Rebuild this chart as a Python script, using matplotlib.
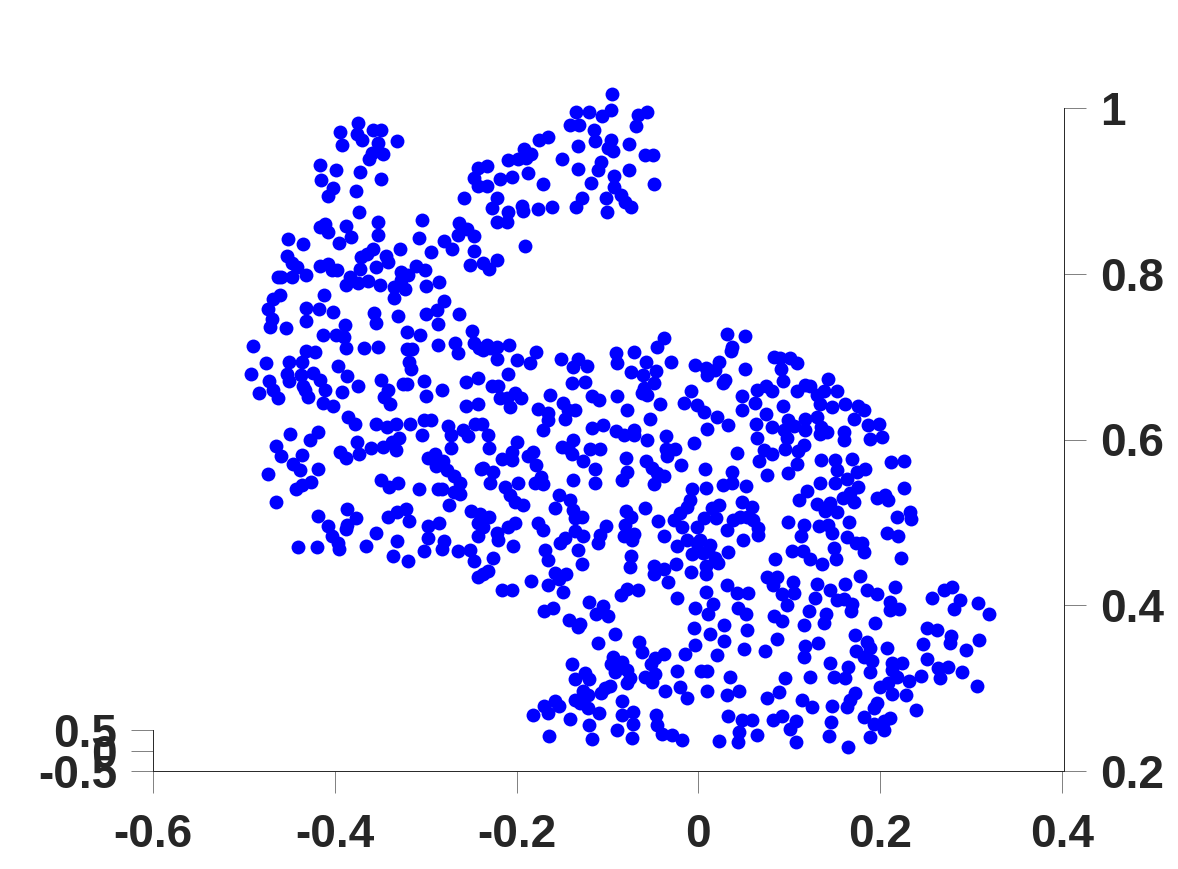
import matplotlib
matplotlib.use("Agg")
import matplotlib.pyplot as plt

# points, grouped by part of the shape
ears_x = [-0.374, -0.394, -0.376, -0.370, -0.358, -0.349, -0.332, -0.392, -0.353, -0.347, -0.359, -0.362,
          -0.416, -0.399, -0.372, -0.349, -0.415, -0.402, -0.408, -0.377, -0.373, -0.352, -0.353, -0.304,
          -0.307, -0.258, -0.411, -0.416, -0.408, -0.388, -0.382, -0.395, -0.451, -0.435, -0.453, -0.447,
          -0.442, -0.463, -0.459, -0.447, -0.432, -0.416, -0.407, -0.403, -0.398, -0.358, -0.365, -0.371,
          -0.344, -0.342, -0.328, -0.355, -0.372, -0.383, -0.388, -0.375, -0.364, -0.350, -0.335, -0.335,
          -0.327, -0.327, -0.319, -0.323, -0.311, -0.301, -0.300, -0.285, -0.294, -0.280, -0.271, -0.265,
          -0.263, -0.255, -0.247, -0.251, -0.247, -0.412, -0.460, -0.468, -0.474, -0.432, -0.417, -0.402,
          -0.280, -0.288, -0.300, -0.357, -0.330, -0.263, -0.243, -0.247, -0.243]
ears_y = [0.982, 0.971, 0.969, 0.961, 0.973, 0.973, 0.960, 0.955, 0.958, 0.945, 0.946, 0.938,
          0.931, 0.925, 0.923, 0.914, 0.913, 0.904, 0.894, 0.900, 0.875, 0.863, 0.847, 0.865,
          0.843, 0.891, 0.860, 0.856, 0.850, 0.858, 0.844, 0.837, 0.842, 0.836, 0.822, 0.813,
          0.808, 0.796, 0.796, 0.796, 0.798, 0.809, 0.812, 0.805, 0.805, 0.830, 0.824, 0.820,
          0.822, 0.814, 0.830, 0.808, 0.806, 0.796, 0.787, 0.789, 0.791, 0.786, 0.771, 0.784,
          0.802, 0.792, 0.798, 0.781, 0.809, 0.804, 0.785, 0.790, 0.826, 0.839, 0.830, 0.847,
          0.861, 0.854, 0.845, 0.810, 0.828, 0.774, 0.774, 0.769, 0.757, 0.759, 0.758, 0.754,
          0.767, 0.756, 0.751, 0.753, 0.749, 0.751, 0.928, 0.915, 0.906]

right_ear_x = [-0.095, -0.135, -0.120, -0.096, -0.106, -0.066, -0.057, -0.069, -0.141, -0.131, -0.115, -0.114,
               -0.096, -0.099, -0.094, -0.133, -0.076, -0.059, -0.050, -0.165, -0.175, -0.192, -0.184, -0.190,
               -0.198, -0.209, -0.150, -0.132, -0.107, -0.111, -0.076, -0.093, -0.118, -0.093, -0.049, -0.188,
               -0.205, -0.218, -0.171, -0.233, -0.233, -0.222, -0.227, -0.194, -0.193, -0.176, -0.161, -0.209,
               -0.222, -0.211, -0.135, -0.128, -0.102, -0.101, -0.085, -0.081, -0.074, -0.191, -0.237, -0.230,
               -0.222]
right_ear_y = [1.017, 0.995, 0.995, 0.997, 0.990, 0.992, 0.995, 0.978, 0.979, 0.979, 0.974, 0.960,
               0.961, 0.952, 0.948, 0.954, 0.956, 0.943, 0.943, 0.965, 0.961, 0.950, 0.945, 0.940,
               0.938, 0.937, 0.939, 0.926, 0.935, 0.925, 0.925, 0.918, 0.910, 0.905, 0.908, 0.921,
               0.917, 0.914, 0.908, 0.930, 0.906, 0.892, 0.879, 0.882, 0.876, 0.878, 0.880, 0.875,
               0.863, 0.862, 0.880, 0.892, 0.892, 0.875, 0.895, 0.886, 0.881, 0.834, 0.813, 0.806,
               0.816]

head_x = [-0.469, -0.471, -0.454, -0.432, -0.389, -0.413, -0.399, -0.390, -0.388, -0.368, -0.353, -0.355,
          -0.321, -0.306, -0.287, -0.490, -0.476, -0.492, -0.472, -0.450, -0.436, -0.432, -0.422, -0.453,
          -0.450, -0.437, -0.424, -0.416, -0.397, -0.387, -0.375, -0.435, -0.411, -0.433, -0.430, -0.483,
          -0.468, -0.462, -0.413, -0.402, -0.392, -0.349, -0.342, -0.346, -0.339, -0.325, -0.321, -0.302,
          -0.300, -0.282, -0.286, -0.321, -0.315, -0.318, -0.316, -0.268, -0.265, -0.256, -0.243, -0.256,
          -0.243, -0.249, -0.247, -0.241, -0.385, -0.378, -0.355, -0.333, -0.343, -0.317, -0.302, -0.294,
          -0.276, -0.272, -0.259, -0.246, -0.253, -0.304, -0.272, -0.329, -0.337, -0.347, -0.360, -0.376,
          -0.373, -0.394, -0.388, -0.333, -0.449, -0.418, -0.427, -0.465, -0.459, -0.436, -0.446, -0.438,
          -0.419, -0.473, -0.426, -0.436, -0.443, -0.465, -0.349, -0.340, -0.331, -0.307, -0.286, -0.282,
          -0.269, -0.262, -0.274, -0.262, -0.269, -0.277, -0.281, -0.290, -0.297, -0.289, -0.239, -0.418,
          -0.387, -0.377, -0.407, -0.387, -0.388, -0.403, -0.396, -0.395, -0.440, -0.420, -0.366, -0.355,
          -0.332, -0.336, -0.319, -0.342, -0.332, -0.322, -0.318, -0.297, -0.285, -0.297, -0.280, -0.282,
          -0.302, -0.265, -0.250, -0.243, -0.243, -0.251, -0.247]
head_y = [0.745, 0.736, 0.735, 0.743, 0.738, 0.726, 0.726, 0.724, 0.710, 0.710, 0.712, 0.741,
          0.730, 0.726, 0.739, 0.713, 0.692, 0.679, 0.671, 0.693, 0.694, 0.707, 0.706, 0.679,
          0.670, 0.678, 0.680, 0.672, 0.689, 0.677, 0.665, 0.664, 0.660, 0.660, 0.651, 0.656,
          0.660, 0.650, 0.644, 0.641, 0.657, 0.672, 0.660, 0.651, 0.643, 0.667, 0.667, 0.670,
          0.653, 0.660, 0.714, 0.709, 0.709, 0.694, 0.685, 0.717, 0.704, 0.669, 0.674, 0.640,
          0.643, 0.731, 0.716, 0.710, 0.627, 0.619, 0.619, 0.619, 0.615, 0.619, 0.623, 0.623,
          0.616, 0.605, 0.612, 0.619, 0.604, 0.605, 0.590, 0.602, 0.597, 0.591, 0.590, 0.597,
          0.582, 0.585, 0.578, 0.587, 0.607, 0.609, 0.600, 0.592, 0.580, 0.581, 0.570, 0.563,
          0.564, 0.558, 0.549, 0.545, 0.540, 0.524, 0.551, 0.543, 0.547, 0.540, 0.540, 0.540,
          0.537, 0.534, 0.521, 0.548, 0.556, 0.563, 0.574, 0.582, 0.578, 0.568, 0.565, 0.508,
          0.516, 0.505, 0.496, 0.497, 0.492, 0.483, 0.475, 0.468, 0.470, 0.470, 0.471, 0.487,
          0.477, 0.460, 0.453, 0.507, 0.512, 0.516, 0.502, 0.496, 0.499, 0.481, 0.478, 0.468,
          0.465, 0.465, 0.514, 0.499, 0.483, 0.467, 0.453]

middle_x = [-0.233, -0.222, -0.208, -0.237, -0.229, -0.222, -0.200, -0.179, -0.185, -0.209, -0.227, -0.220,
            -0.218, -0.211, -0.202, -0.195, -0.207, -0.151, -0.132, -0.138, -0.123, -0.139, -0.125, -0.163,
            -0.117, -0.109, -0.149, -0.136, -0.143, -0.147, -0.177, -0.166, -0.165, -0.171, -0.091, -0.090,
            -0.071, -0.058, -0.074, -0.061, -0.047, -0.049, -0.030, -0.004, -0.038, -0.045, -0.089, -0.078,
            -0.060, -0.057, -0.062, -0.042, -0.053, -0.008, -0.016, -0.002, -0.117, -0.105, -0.091, -0.082,
            -0.071, -0.071, -0.056, -0.036, -0.005, -0.036, -0.026, -0.034, -0.019, -0.238, -0.232, -0.230,
            -0.200, -0.205, -0.216, -0.205, -0.182, -0.187, -0.179, -0.237, -0.226, -0.229, -0.213, -0.198,
            -0.207, -0.202, -0.193, -0.173, -0.180, -0.171, -0.138, -0.138, -0.150, -0.144, -0.139, -0.127,
            -0.119, -0.108, -0.114, -0.114, -0.080, -0.079, -0.084, -0.058, -0.051, -0.046, -0.038, -0.049,
            -0.153, -0.141, -0.158, -0.138, -0.128, -0.136, -0.080, -0.059, -0.074, -0.044, -0.027, -0.020,
            -0.013, -0.009, -0.007, -0.018, -0.002, -0.038, -0.023, -0.013, -0.002, -0.007, -0.240, -0.230,
            -0.237, -0.222, -0.221, -0.209, -0.202, -0.204, -0.226, -0.232, -0.176, -0.171, -0.169, -0.165,
            -0.147, -0.136, -0.127, -0.152, -0.133, -0.108, -0.102, -0.110, -0.081, -0.082, -0.071, -0.073,
            -0.074, -0.237, -0.242, -0.216, -0.205]
middle_y = [0.714, 0.712, 0.714, 0.708, 0.710, 0.697, 0.696, 0.705, 0.692, 0.679, 0.664, 0.664,
            0.650, 0.650, 0.656, 0.650, 0.639, 0.697, 0.697, 0.687, 0.689, 0.668, 0.669, 0.654,
            0.652, 0.648, 0.644, 0.636, 0.636, 0.625, 0.637, 0.632, 0.624, 0.612, 0.704, 0.692,
            0.705, 0.693, 0.681, 0.678, 0.683, 0.668, 0.693, 0.690, 0.723, 0.712, 0.652, 0.636,
            0.662, 0.654, 0.656, 0.643, 0.625, 0.658, 0.644, 0.642, 0.614, 0.617, 0.610, 0.605,
            0.611, 0.605, 0.599, 0.604, 0.596, 0.589, 0.589, 0.580, 0.569, 0.619, 0.605, 0.590,
            0.597, 0.585, 0.576, 0.575, 0.585, 0.580, 0.569, 0.566, 0.561, 0.548, 0.543, 0.547,
            0.533, 0.525, 0.521, 0.555, 0.547, 0.546, 0.551, 0.599, 0.591, 0.590, 0.582, 0.574,
            0.588, 0.588, 0.564, 0.548, 0.578, 0.561, 0.551, 0.574, 0.566, 0.559, 0.556, 0.546,
            0.533, 0.527, 0.517, 0.515, 0.506, 0.505, 0.514, 0.517, 0.506, 0.502, 0.503, 0.511,
            0.519, 0.527, 0.540, 0.495, 0.495, 0.484, 0.472, 0.479, 0.475, 0.462, 0.510, 0.506,
            0.495, 0.487, 0.479, 0.494, 0.499, 0.472, 0.457, 0.441, 0.499, 0.491, 0.467, 0.455,
            0.481, 0.489, 0.483, 0.475, 0.467, 0.485, 0.496, 0.475, 0.497, 0.483, 0.486, 0.479,
            0.459, 0.438, 0.434, 0.418, 0.419]

back_x = [0.031, 0.051, 0.037, 0.036, 0.008, 0.023, 0.010, 0.018, 0.027, 0.029, 0.051, 0.083,
          0.090, 0.101, 0.108, 0.091, 0.093, 0.143, 0.152, 0.117, 0.123, 0.108, 0.138, 0.074,
          0.081, 0.064, 0.048, 0.062, 0.048, 0.093, 0.130, 0.134, 0.147, 0.161, 0.176, 0.182,
          0.171, 0.199, 0.187, 0.074, 0.063, 0.081, 0.099, 0.094, 0.105, 0.117, 0.130, 0.117,
          0.135, 0.141, 0.134, 0.160, 0.160, 0.189, 0.202, 0.065, 0.097, 0.095, 0.116, 0.110,
          0.072, 0.081, 0.067, 0.076, 0.108, 0.099, 0.135, 0.150, 0.169, 0.152, 0.183, 0.174,
          0.163, 0.150, 0.134, 0.176, 0.167, 0.159, 0.171, 0.120, 0.111, 0.130, 0.145, 0.139,
          0.153, 0.196, 0.205, 0.209, 0.226, 0.212, 0.226, 0.233, 0.234, 0.219, 0.207, 0.220,
          0.166, 0.099, 0.116, 0.113, 0.133, 0.143, 0.147, 0.163, 0.173, 0.180, 0.182, 0.149,
          0.223, 0.103, 0.115, 0.084, 0.123, 0.151, 0.042, 0.007, 0.037, 0.027, 0.037, 0.052,
          0.008, 0.010, 0.033, 0.021, 0.006, 0.023, 0.015, 0.019, 0.006, 0.048, 0.059, 0.038,
          0.046, 0.053, 0.032, 0.060, 0.066, 0.066, 0.049, 0.033, 0.002, 0.013, 0.005, 0.011,
          0.018]
back_y = [0.727, 0.725, 0.712, 0.707, 0.686, 0.693, 0.678, 0.684, 0.668, 0.672, 0.685, 0.699,
          0.698, 0.698, 0.692, 0.685, 0.670, 0.673, 0.658, 0.666, 0.664, 0.658, 0.659, 0.664,
          0.659, 0.660, 0.652, 0.644, 0.635, 0.641, 0.654, 0.643, 0.639, 0.643, 0.641, 0.635,
          0.625, 0.619, 0.617, 0.631, 0.619, 0.615, 0.623, 0.611, 0.616, 0.625, 0.627, 0.611,
          0.615, 0.609, 0.607, 0.609, 0.600, 0.601, 0.603, 0.602, 0.602, 0.589, 0.593, 0.586,
          0.587, 0.582, 0.574, 0.557, 0.570, 0.559, 0.575, 0.575, 0.577, 0.563, 0.564, 0.561,
          0.552, 0.548, 0.547, 0.543, 0.535, 0.530, 0.525, 0.538, 0.527, 0.522, 0.523, 0.514,
          0.512, 0.530, 0.533, 0.527, 0.542, 0.573, 0.574, 0.512, 0.504, 0.506, 0.487, 0.484,
          0.500, 0.501, 0.497, 0.483, 0.496, 0.497, 0.487, 0.482, 0.475, 0.475, 0.464, 0.469,
          0.457, 0.465, 0.465, 0.456, 0.456, 0.456, 0.584, 0.565, 0.561, 0.545, 0.547, 0.544,
          0.541, 0.613, 0.617, 0.627, 0.633, 0.521, 0.517, 0.505, 0.505, 0.524, 0.519, 0.503,
          0.507, 0.507, 0.491, 0.503, 0.493, 0.485, 0.479, 0.464, 0.479, 0.473, 0.463, 0.465,
          0.457]

belly_x = [-0.128, -0.075, -0.049, -0.049, -0.038, -0.025, -0.033, -0.008, 0.008, 0.008, 0.022, -0.184,
           -0.158, -0.146, -0.153, -0.166, -0.149, 0.032, 0.042, 0.055, 0.008, -0.024, -0.079, -0.066,
           -0.085, -0.004, 0.016, 0.011, 0.044, 0.052, -0.120, -0.105, -0.113, -0.100, -0.170, -0.160,
           -0.142, -0.130, -0.133, -0.005, 0.028, 0.053, 0.013, 0.028, -0.092, -0.111, -0.065, -0.062,
           -0.004, 0.050, -0.038, -0.048, -0.015, 0.021, -0.052, -0.139, -0.094, -0.096, -0.084, -0.092,
           -0.079, -0.075, -0.059, -0.048, -0.051, -0.078, -0.023, 0.003, 0.009, 0.035, -0.125, -0.136,
           -0.120, -0.097, -0.103, -0.107, -0.127, -0.121, -0.136, -0.130, -0.121, -0.109, -0.037, -0.020,
           -0.013, 0.009, 0.031, 0.045, -0.084, -0.158, -0.170, -0.153, -0.166, -0.182, -0.141, -0.120,
           -0.164, -0.117, -0.089, -0.072, -0.084, -0.072, -0.073, -0.047, -0.046, -0.040, -0.029, -0.018,
           0.033, 0.048, 0.059, 0.045, 0.044, 0.023, 0.064]
belly_y = [0.450, 0.446, 0.447, 0.438, 0.444, 0.450, 0.428, 0.440, 0.447, 0.438, 0.451, 0.429,
           0.439, 0.438, 0.432, 0.424, 0.416, 0.424, 0.415, 0.415, 0.416, 0.409, 0.420, 0.419,
           0.412, 0.397, 0.402, 0.390, 0.397, 0.389, 0.404, 0.399, 0.389, 0.387, 0.393, 0.397,
           0.382, 0.377, 0.374, 0.372, 0.376, 0.370, 0.365, 0.357, 0.365, 0.354, 0.356, 0.343,
           0.352, 0.347, 0.341, 0.336, 0.341, 0.340, 0.329, 0.329, 0.338, 0.329, 0.331, 0.319,
           0.322, 0.312, 0.313, 0.317, 0.307, 0.306, 0.321, 0.321, 0.321, 0.313, 0.318, 0.311,
           0.311, 0.302, 0.300, 0.294, 0.296, 0.292, 0.286, 0.282, 0.276, 0.270, 0.296, 0.301,
           0.288, 0.297, 0.292, 0.296, 0.285, 0.284, 0.278, 0.278, 0.270, 0.267, 0.263, 0.256,
           0.242, 0.239, 0.249, 0.271, 0.267, 0.257, 0.240, 0.268, 0.255, 0.245, 0.243, 0.238,
           0.266, 0.262, 0.262, 0.247, 0.235, 0.236, 0.243]

tail_x = [0.136, 0.075, 0.087, 0.104, 0.082, 0.092, 0.105, 0.097, 0.083, 0.092, 0.130, 0.128,
          0.122, 0.145, 0.161, 0.178, 0.186, 0.196, 0.216, 0.153, 0.160, 0.169, 0.168, 0.211,
          0.211, 0.221, 0.140, 0.138, 0.116, 0.194, 0.257, 0.270, 0.279, 0.288, 0.281, 0.308,
          0.320, 0.252, 0.262, 0.278, 0.277, 0.247, 0.309, 0.294, 0.251, 0.172, 0.185, 0.189,
          0.173, 0.182, 0.191, 0.189, 0.208, 0.087, 0.073, 0.117, 0.132, 0.116, 0.145, 0.165,
          0.149, 0.161, 0.213, 0.224, 0.213, 0.218, 0.232, 0.245, 0.264, 0.275, 0.266, 0.290,
          0.307, 0.095, 0.123, 0.209, 0.200, 0.213, 0.228, 0.239, 0.089, 0.076, 0.114, 0.125,
          0.147, 0.172, 0.167, 0.164, 0.196, 0.193, 0.182, 0.211, 0.204, 0.193, 0.146, 0.144,
          0.189, 0.204, 0.165, 0.082, 0.092, 0.107, 0.101, 0.107]
tail_y = [0.450, 0.434, 0.434, 0.428, 0.424, 0.414, 0.415, 0.400, 0.387, 0.381, 0.426, 0.409,
          0.393, 0.418, 0.426, 0.435, 0.419, 0.413, 0.422, 0.406, 0.407, 0.402, 0.393, 0.404,
          0.394, 0.396, 0.390, 0.378, 0.376, 0.379, 0.409, 0.418, 0.422, 0.406, 0.396, 0.403,
          0.390, 0.373, 0.370, 0.363, 0.354, 0.353, 0.358, 0.346, 0.335, 0.364, 0.356, 0.349,
          0.345, 0.338, 0.333, 0.320, 0.349, 0.359, 0.345, 0.351, 0.355, 0.338, 0.330, 0.325,
          0.314, 0.312, 0.330, 0.330, 0.322, 0.314, 0.309, 0.315, 0.324, 0.325, 0.312, 0.319,
          0.302, 0.312, 0.313, 0.306, 0.301, 0.293, 0.292, 0.274, 0.295, 0.288, 0.286, 0.277,
          0.278, 0.294, 0.286, 0.277, 0.282, 0.276, 0.265, 0.264, 0.260, 0.257, 0.259, 0.242,
          0.241, 0.249, 0.229, 0.261, 0.266, 0.260, 0.251, 0.235]

x_ticks = [-0.6, -0.4, -0.2, 0, 0.2, 0.4]
x_labels = ["-0.6", "-0.4", "-0.2", "0", "0.2", "0.4"]
y_ticks = [0.2, 0.4, 0.6, 0.8, 1]
y_labels = ["0.2", "0.4", "0.6", "0.8", "1"]
z_ticks = [-0.5, 0, 0.5]
z_labels = ["-0.5", "0", "0.5"]

W, H = 1178, 869
LABEL = "#262626"
TICK = "#808080"

plt.rcParams["font.family"] = ["Liberation Sans", "DejaVu Sans"]
plt.rcParams["font.weight"] = "bold"
plt.rcParams["font.size"] = 33

fig = plt.figure(figsize=(W / 100, H / 100), dpi=100)

ax = fig.add_axes([153 / W, 1 - 771 / H, 911 / W, 663 / H])
ax.set_xlim(-0.6, 0.4022)
ax.set_ylim(0.2, 1)
groups = [(ears_x, ears_y), (right_ear_x, right_ear_y), (head_x, head_y), (middle_x, middle_y),
          (back_x, back_y), (belly_x, belly_y), (tail_x, tail_y)]
for xs, ys in groups:
    ax.scatter(xs, ys, s=100, color="#0000FF", linewidths=0, clip_on=False, zorder=3)

ax.spines["top"].set_visible(False)
ax.spines["left"].set_visible(False)
ax.spines["bottom"].set_linewidth(0.7)
ax.spines["bottom"].set_color(LABEL)
ax.spines["right"].set_linewidth(0.7)
ax.spines["right"].set_color(LABEL)
ax.set_xticks(x_ticks, x_labels)
ax.set_yticks(y_ticks, y_labels)
ax.yaxis.tick_right()
ax.tick_params(axis="x", length=16, width=0.7, color=TICK, labelcolor=LABEL, pad=14)
ax.tick_params(axis="y", length=16, width=0.7, color=TICK, labelcolor=LABEL, pad=10)

# short z axis in the lower left corner
az = fig.add_axes([153 / W, 1 - 771 / H, 1 / W, 41 / H])
az.patch.set_alpha(0)
az.set_ylim(-0.5, 0.5)
az.set_xticks([])
az.set_yticks(z_ticks, z_labels)
for side in ["top", "right", "bottom"]:
    az.spines[side].set_visible(False)
az.spines["left"].set_linewidth(0.7)
az.spines["left"].set_color(LABEL)
az.tick_params(axis="y", length=16, width=0.7, color=TICK, labelcolor=LABEL, pad=10)

fig.savefig("out.png", dpi=100)
plt.close(fig)
